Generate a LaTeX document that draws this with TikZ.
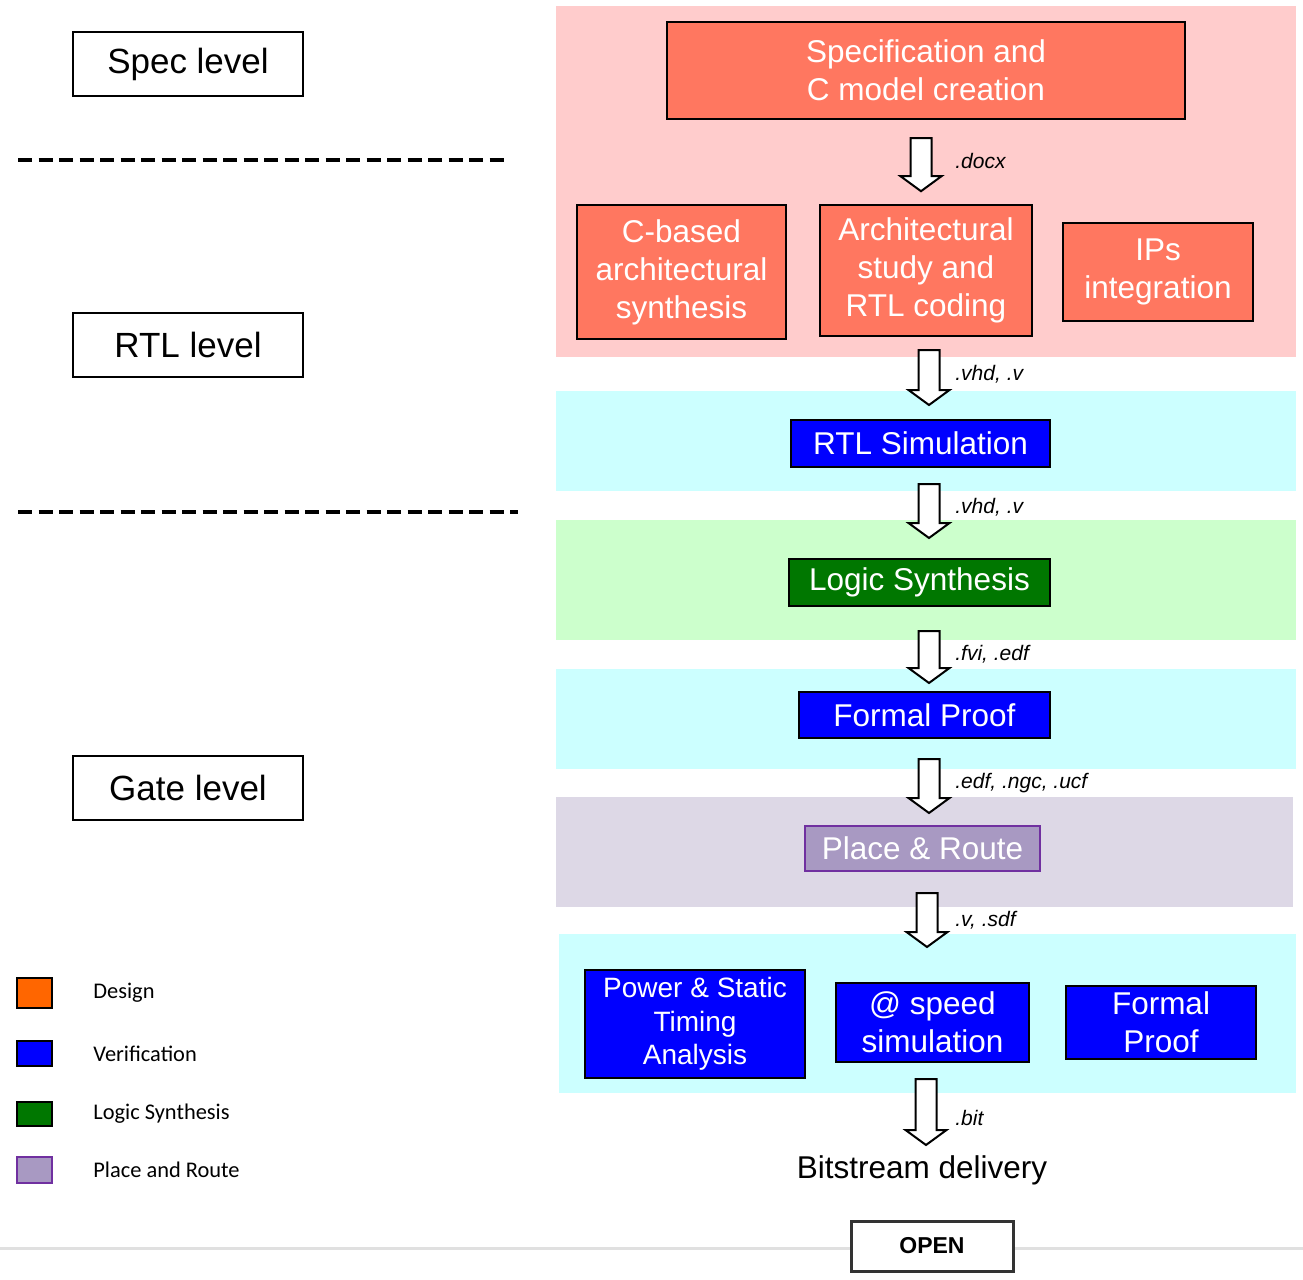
\documentclass[tikz,border=0pt]{standalone}
\usepackage{fontspec}
\setmainfont{Liberation Sans}
\newfontfamily\legendfont{Carlito}
\usetikzlibrary{positioning, calc}

\definecolor{bandpink}{RGB}{255,204,204}
\definecolor{bandcyan}{RGB}{204,255,255}
\definecolor{bandgreen}{RGB}{204,255,204}
\definecolor{bandlilac}{RGB}{221,216,230}
\definecolor{designred}{RGB}{255,119,96}
\definecolor{designorange}{RGB}{255,102,0}
\definecolor{verifblue}{RGB}{0,0,255}
\definecolor{synthgreen}{RGB}{0,119,0}
\definecolor{pnrfill}{RGB}{168,153,194}
\definecolor{pnrline}{RGB}{112,48,160}

\tikzset{
  levelbox/.style={draw, line width=1pt, minimum width=115pt, minimum height=32pt, font=\fontsize{17.5}{21}\selectfont},
  flowbox/.style={draw, line width=1pt, text=white, align=center, inner sep=0pt, font=\fontsize{15.75}{19}\selectfont},
  designbox/.style={flowbox, fill=designred},
  verifbox/.style={flowbox, fill=verifblue},
  synthbox/.style={flowbox, fill=synthgreen},
  pnrbox/.style={flowbox, fill=pnrfill, draw=pnrline},
  filelabel/.style={anchor=west, inner sep=0pt, font=\fontsize{10.5}{12}\selectfont\itshape},
  legendsq/.style={draw, line width=1pt, minimum width=17.5pt, inner sep=0pt},
  legendtext/.style={right=20pt of #1, inner sep=0pt, font=\legendfont\fontsize{11.2}{13}\selectfont},
  levelline/.style={line width=2pt, dash pattern=on 7pt off 3.25pt},
  pics/bigarrow/.style={code={
    \draw[fill=white, line width=1pt] (-10.5,0) -- (10.5,0) -- (10.5,#1-15) -- (20.5,#1-15)
      -- (0,#1) -- (-20.5,#1-15) -- (-10.5,#1-15) -- cycle;
    \coordinate (-tip) at (0,#1);
  }}
}

\begin{document}
\begin{tikzpicture}[x=0.5pt, y=-0.5pt]
	\useasboundingbox (0,0) rectangle (1303,1280);
	\fill[white] (0,0) rectangle (1303,1280);
	% bandes %
	\fill[bandpink] (556,6) rectangle (1296,357);
	\fill[bandcyan] (556,391) rectangle (1296,491);
	\fill[bandgreen] (556,520) rectangle (1296,640);
	\fill[bandcyan] (556,669) rectangle (1296,769);
	\fill[bandlilac] (556,797) rectangle (1293,907);
	\fill[bandcyan] (559,934) rectangle (1296,1093);
	\draw[black!12, line width=1.5pt] (0,1248) -- (1303,1248);
	% niveaux %
	\node[levelbox] (speclvl) at (188,64) {Spec level};
	\node[levelbox] (rtllvl) at (188,344.5) {RTL level};
	\node[levelbox] (gatelvl) at (188,787.5) {Gate level};
	\draw[levelline] (18,160) -- (510,160);
	\draw[levelline] (18,512) -- (518,512);
	% flot %
	\node[designbox, minimum width=259pt, minimum height=48.5pt, line width=1.2pt] (specbox) at (926,70.5) {Specification and\\C model creation};
	\node[designbox, minimum width=104.5pt, minimum height=67pt] (cbased) at (681.5,272) {C-based\\architectural\\synthesis};
	\node[designbox, minimum width=106pt, minimum height=65.5pt] (archi) at (926,270.5) {Architectural\\study and\\RTL coding};
	\node[designbox, minimum width=95pt, minimum height=49pt] (ips) at (1158,272) {IPs\\integration};
	\node[verifbox, minimum width=129.5pt, minimum height=23.5pt] (rtlsim) at (920.5,443.5) {RTL Simulation};
	\node[synthbox, minimum width=130.5pt, minimum height=23.5pt] (logsyn) at (919.5,582.5) {Logic Synthesis};
	\node[verifbox, minimum width=125.5pt, minimum height=23pt] (formal) at (924.5,715) {Formal Proof};
	\node[pnrbox, minimum width=117.5pt, minimum height=22.5pt] (pnr) at (922.5,848.5) {Place \& Route};
	\node[verifbox, minimum width=110pt, minimum height=54pt, font=\fontsize{14}{16.75}\selectfont] (psta) at (695,1024) {Power \& Static\\Timing\\Analysis};
	\node[verifbox, minimum width=96.5pt, minimum height=39.5pt] (atspeed) at (932.5,1022.5) {@ speed\\simulation};
	\node[verifbox, minimum width=95pt, minimum height=36.5pt] (formaltwo) at (1161,1022.5) {Formal\\Proof};
	\node[font=\fontsize{15.75}{19}\selectfont] (bits) at (922,1170) {Bitstream delivery};
	% fleches %
	\pic (ar1) at ($(specbox.south)+(-5,18)$) {bigarrow=53};
	\pic (ar2) at ($(archi.south)+(3,13)$) {bigarrow=55};
	\pic (ar3) at ($(rtlsim.south)+(8.5,16)$) {bigarrow=54};
	\pic (ar4) at ($(logsyn.south)+(9.5,24)$) {bigarrow=52};
	\pic (ar5) at ($(formal.south)+(4.5,20)$) {bigarrow=54};
	\pic (ar6) at ($(pnr.south)+(4.5,21)$) {bigarrow=54};
	\pic (ar7) at ($(atspeed.south)+(-6.5,16)$) {bigarrow=66};
	\node[filelabel] (f1) at (955,161) {.docx};
	\node[filelabel] (f2) at (955,374) {.vhd, .v};
	\node[filelabel] (f3) at (955,507) {.vhd, .v};
	\node[filelabel] (f4) at (955,654) {.fvi, .edf};
	\node[filelabel] (f5) at (955,783) {.edf, .ngc, .ucf};
	\node[filelabel] (f6) at (955,920) {.v, .sdf};
	\node[filelabel] (f7) at (955,1118) {.bit};
	% legende %
	\node[legendsq, fill=designorange, minimum height=15pt] (lgdesign) at (34.5,993) {};
	\node[legendsq, fill=verifblue, minimum height=12.5pt] (lgverif) at (34.5,1053.5) {};
	\node[legendsq, fill=synthgreen, minimum height=12pt] (lgsynth) at (34.5,1114) {};
	\node[legendsq, fill=pnrfill, draw=pnrline, minimum height=13pt] (lgpnr) at (34.5,1170) {};
	\node[legendtext=lgdesign] (tdesign) {Design};
	\node[legendtext=lgverif] (tverif) {Verification};
	\node[legendtext=lgsynth] (tsynth) {Logic Synthesis};
	\node[legendtext=lgpnr] (tpnr) {Place and Route};
	% bouton %
	\node[draw=black!80, line width=1.5pt, fill=white, minimum width=81pt, minimum height=25pt, font=\fontsize{11.5}{13}\selectfont\bfseries] (openbtn) at (932,1246) {OPEN};
\end{tikzpicture}
\end{document}
